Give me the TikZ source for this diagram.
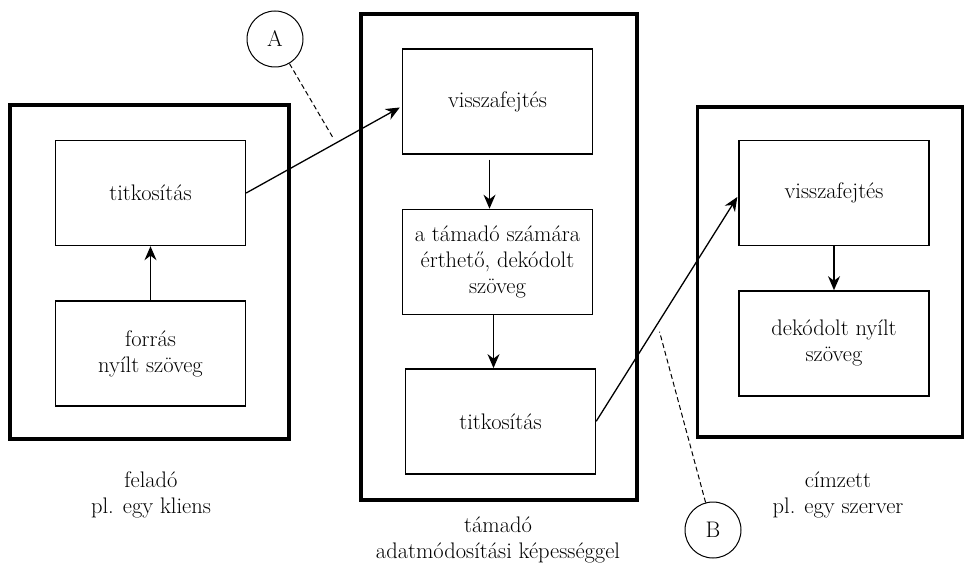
\documentclass[tikz,border=0pt]{standalone}
\usepackage{tikz}
\usetikzlibrary{arrows.meta,positioning}
\tikzset{
  party/.style={draw, line width=3.5pt, inner sep=0pt},
  stepbox/.style={draw, line width=1.4pt, minimum width=190pt, minimum height=105pt,
    align=center, inner sep=2pt},
  caption/.style={align=center, inner sep=0pt},
  marker/.style={draw, circle, line width=1pt, minimum size=56pt, inner sep=0pt},
  flow/.style={-{Stealth[length=14pt,width=12pt]}, line width=1.3pt},
  pointer/.style={dashed, dash pattern=on 5pt off 3pt, line width=1pt}
}
\begin{document}
\begin{tikzpicture}[x=1pt,y=-1pt,font=\fontsize{22.5}{26}\selectfont]
  \useasboundingbox (0,0) rectangle (966,572);
  % Define nodes
  \node[party, minimum width=279pt, minimum height=334pt] (sender) at (149.5,272) {};
  \node[party, minimum width=276pt, minimum height=486pt] (attacker) at (499,257) {};
  \node[party, minimum width=265pt, minimum height=330pt] (receiver) at (830,272) {};
  \node[stepbox] (srcEnc) at (150.5,193) {titkosítás};
  \node[stepbox, below=54pt of srcEnc] (srcPlain) {forrás\\nyílt szöveg};
  \node[stepbox] (attDec) at (497.5,101.5) {visszafejtés};
  \node[stepbox, below=54pt of attDec] (attPlain) {a támadó számára\\érthető, dekódolt\\szöveg};
  \node[stepbox, below=53pt of attPlain, xshift=3pt] (attEnc) {titkosítás};
  \node[stepbox] (rcvDec) at (834,193) {visszafejtés};
  \node[stepbox, below=44pt of rcvDec] (rcvPlain) {dekódolt nyílt\\szöveg};
  \node[caption] (srcCap) at (151,495) {feladó\\pl. egy kliens};
  \node[caption] (attCap) at (498,540) {támadó\\adatmódosítási képességgel};
  \node[caption] (rcvCap) at (838,495) {címzett\\pl. egy szerver};
  \node[marker] (A) at (275,39) {A};
  \node[marker] (B) at (713,530) {B};
  % Connect nodes
  \draw[flow] (srcPlain) -- (srcEnc);
  \draw[flow, shorten <=5pt] ([xshift=-8pt]attDec.south) -- ([xshift=-8pt]attDec.south |- attPlain.north);
  \draw[flow] ([xshift=-4pt]attPlain.south) -- ([xshift=-4pt]attPlain.south |- attEnc.north);
  \draw[flow] (rcvDec) -- (rcvPlain);
  \draw[flow] (srcEnc.east) -- coordinate[pos=0.585] (aHit) ([xshift=-2pt,yshift=-6pt]attDec.west);
  \draw[flow] (attEnc.east) -- coordinate[pos=0.434] (bHit) ([xshift=-1pt,yshift=-4pt]rcvDec.west);
  \draw[pointer, shorten >=6pt] (A) -- (aHit);
  \draw[pointer, shorten >=8pt] (B) -- (bHit);
\end{tikzpicture}
\end{document}
